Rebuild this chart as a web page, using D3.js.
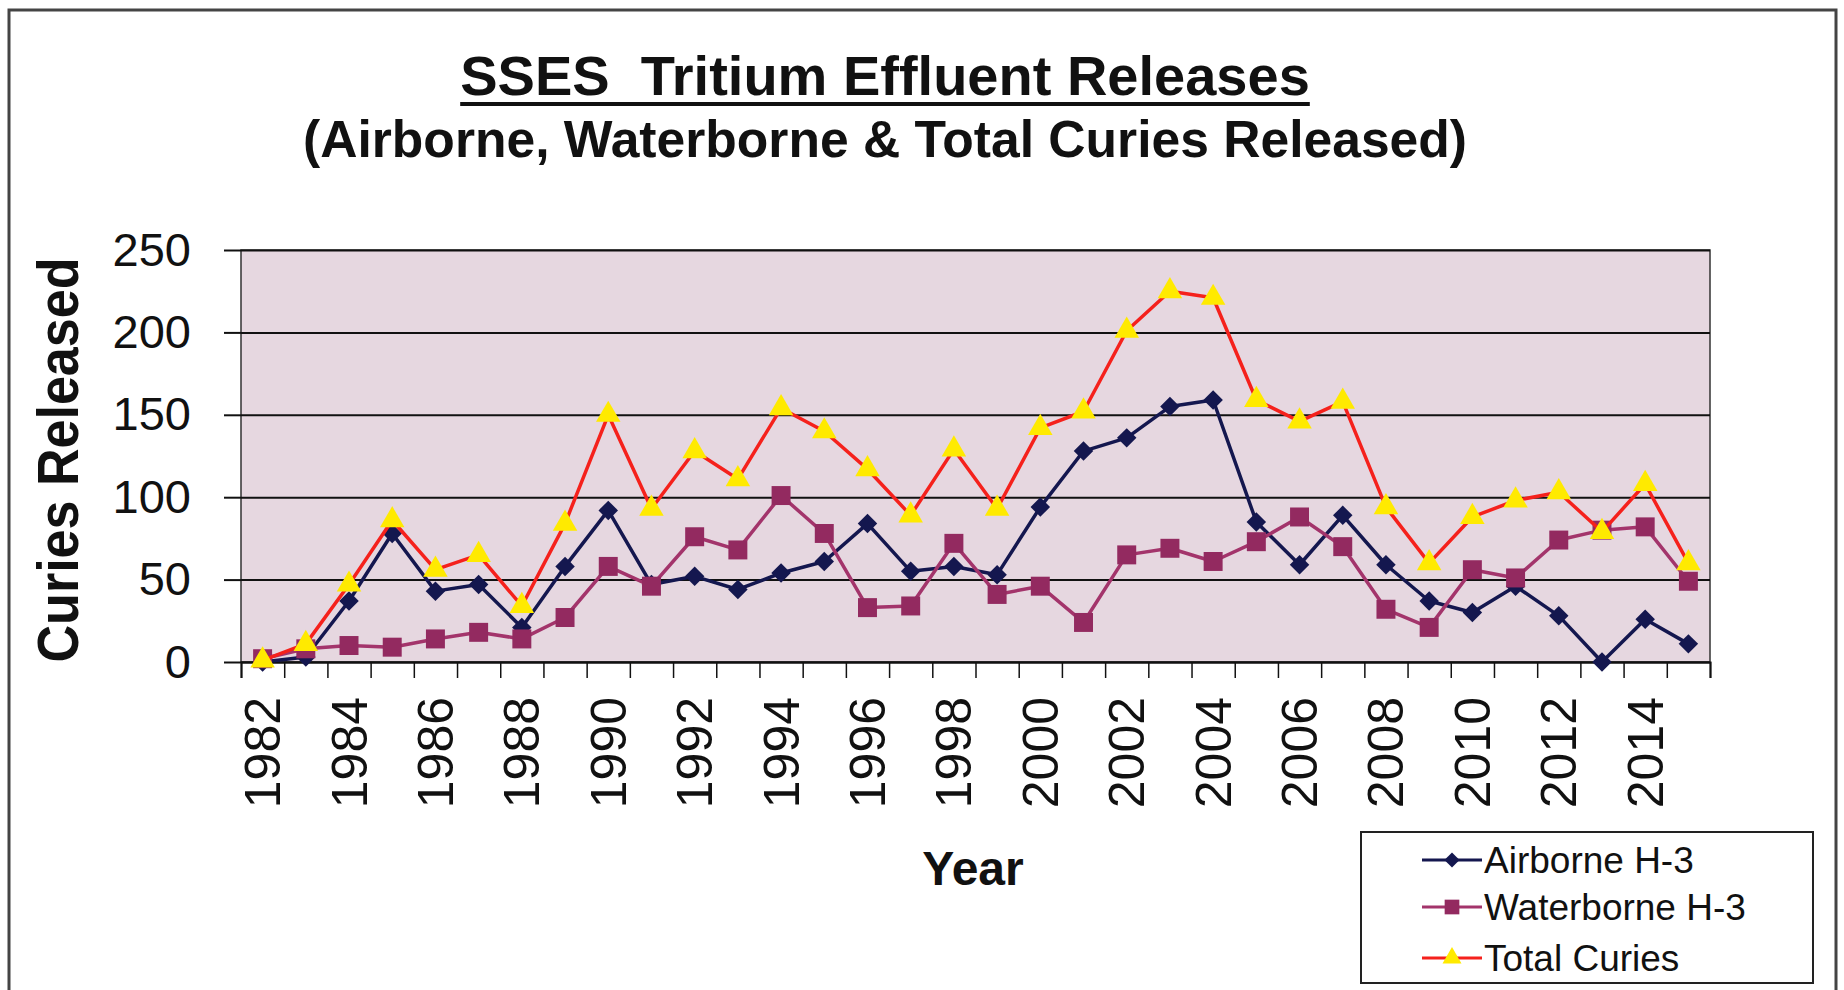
<!DOCTYPE html>
<html>
<head>
<meta charset="utf-8">
<script src="https://cdn.jsdelivr.net/npm/d3@7"></script>
<style>
  body { margin: 0; background: #fff; }
  svg { display: block; font-family: Arial, "Liberation Sans", sans-serif; }
</style>
</head>
<body>
<svg id="chart" width="1844" height="990"></svg>
<script>
// data
const years = d3.range(1982, 2016)
const airborne = [0, 3, 37, 78, 43, 47, 21, 58, 92, 47, 52, 44, 54, 61, 84, 55, 58, 53, 94, 128,
  136, 155, 159, 85, 59, 89, 59, 37, 30, 46, 28, 0, 26, 11]
const waterborne = [2, 8, 10, 9, 14, 18, 14, 27, 58, 46, 76, 68, 101, 78, 33, 34, 72, 41, 46, 24,
  65, 69, 61, 73, 88, 70, 32, 21, 56, 51, 74, 80, 82, 49]
const total = [1, 11, 47, 86, 56, 65, 34, 84, 150, 93, 128, 111, 154, 140, 117, 89, 129, 93, 142, 152,
  201, 225, 221, 159, 146, 158, 94, 60, 88, 98, 103, 79, 108, 60]
const yTicks = [0, 50, 100, 150, 200, 250]
const xLabels = years.filter(y => y % 2 === 0)
const seriesNames = ['Airborne H-3', 'Waterborne H-3', 'Total Curies']

const plot = {left: 241, right: 1710, top: 250, bottom: 662}

const svg = d3.select('#chart')

// outer frame of the scan
svg.append('rect').attr('x', 9).attr('y', 10).attr('width', 1827).attr('height', 1000)
  .attr('fill', 'none').attr('stroke', '#444').attr('stroke-width', 3)

let x = d3.scaleBand().domain(years).range([plot.left, plot.right]).padding(0)
let xEdge = d3.scaleLinear().domain([0, years.length]).range([plot.left, plot.right])
let y = d3.scaleLinear().domain([0, 250]).range([plot.bottom, plot.top])
const cx = d => x(d) + x.bandwidth() / 2

// plot area
svg.append('rect').attr('x', plot.left).attr('y', plot.top)
  .attr('width', plot.right - plot.left).attr('height', plot.bottom - plot.top)
  .attr('fill', '#e6d7e0').attr('stroke', '#333').attr('stroke-width', 1.5)

// gridlines
svg.append('g').attr('class', 'grid')
  .attr('transform', `translate(${plot.left},0)`)
  .call(d3.axisLeft(y).tickValues(yTicks).tickSize(-(plot.right - plot.left)).tickFormat(''))
  .call(g => g.select('.domain').remove())
  .selectAll('line').attr('stroke', '#111').attr('stroke-width', 2)

// y axis
svg.append('g').attr('class', 'yAxis')
  .attr('transform', `translate(${plot.left},0)`)
  .call(d3.axisLeft(y).tickValues(yTicks).tickSize(17).tickPadding(33))
  .call(g => g.select('.domain').remove())
  .call(g => g.selectAll('line').attr('stroke', '#111').attr('stroke-width', 2))
  .call(g => g.selectAll('text').attr('font-size', 47).attr('fill', '#111')
    .attr('font-family', 'Arial, "Liberation Sans", sans-serif'))

// x axis tick marks between categories
svg.append('g').attr('class', 'xTicks')
  .attr('transform', `translate(0,${plot.bottom})`)
  .call(d3.axisBottom(xEdge).tickValues(d3.range(years.length + 1)).tickSize(16).tickFormat(''))
  .call(g => g.select('.domain').attr('stroke', '#111').attr('stroke-width', 2))
  .selectAll('line').attr('stroke', '#111').attr('stroke-width', 1.5)

// x labels, rotated
svg.append('g').attr('class', 'xAxis')
  .attr('transform', `translate(0,${plot.bottom})`)
  .call(d3.axisBottom(x).tickValues(xLabels).tickSize(0))
  .call(g => g.select('.domain').remove())
  .selectAll('text')
  .attr('transform', 'rotate(-90)')
  .attr('x', -35).attr('y', 0).attr('dy', '0.35em')
  .attr('text-anchor', 'end')
  .attr('font-size', 50).attr('fill', '#111')
  .attr('font-family', 'Arial, "Liberation Sans", sans-serif')

// series
const series = [
  {name: seriesNames[0], values: airborne, line: '#14174f', fill: '#14174f',
    symbol: d3.symbolSquare, size: 190, rotate: 45},
  {name: seriesNames[1], values: waterborne, line: '#a3346b', fill: '#932a60',
    symbol: d3.symbolSquare, size: 360, rotate: 0},
  {name: seriesNames[2], values: total, line: '#f5211c', fill: '#ffea00',
    symbol: d3.symbolTriangle, size: 260, rotate: 0}
]

let line = d3.line().x((d, i) => cx(years[i])).y(d => y(d))

series.forEach(s => {
  let g = svg.append('g').attr('class', 'series')
  g.append('path').datum(s.values)
    .attr('fill', 'none').attr('stroke', s.line).attr('stroke-width', 3.5)
    .attr('stroke-linejoin', 'round')
    .attr('d', line)
  g.selectAll('path.marker').data(s.values).enter().append('path')
    .attr('class', 'marker')
    .attr('d', d3.symbol().type(s.symbol).size(s.size))
    .attr('transform', (d, i) => `translate(${cx(years[i])},${y(d)}) rotate(${s.rotate})`)
    .attr('fill', s.fill)
})

// titles
const title = svg.append('text').attr('x', 885).attr('y', 95)
  .attr('text-anchor', 'middle').attr('font-size', 56).attr('font-weight', 'bold')
  .attr('fill', '#111')
  .text('SSES  Tritium Effluent Releases')
  .style('white-space', 'pre')
let tb = title.node().getBBox()
svg.append('line').attr('x1', tb.x).attr('x2', tb.x + tb.width)
  .attr('y1', 104).attr('y2', 104).attr('stroke', '#111').attr('stroke-width', 4)

svg.append('text').attr('x', 885).attr('y', 157)
  .attr('text-anchor', 'middle').attr('font-size', 52).attr('font-weight', 'bold')
  .attr('fill', '#111')
  .attr('textLength', 1164).attr('lengthAdjust', 'spacingAndGlyphs')
  .text('(Airborne, Waterborne & Total Curies Released)')

svg.append('text')
  .attr('transform', 'translate(78,460) rotate(-90)')
  .attr('text-anchor', 'middle').attr('font-size', 58).attr('font-weight', 'bold')
  .attr('fill', '#111')
  .attr('textLength', 405).attr('lengthAdjust', 'spacingAndGlyphs')
  .text('Curies Released')

svg.append('text').attr('x', 973).attr('y', 885)
  .attr('text-anchor', 'middle').attr('font-size', 48).attr('font-weight', 'bold')
  .attr('fill', '#111')
  .text('Year')

// legend
const legend = svg.append('g').attr('class', 'legend')
legend.append('rect').attr('x', 1361).attr('y', 832).attr('width', 452).attr('height', 151)
  .attr('fill', '#fff').attr('stroke', '#222').attr('stroke-width', 2)
const rowY = [860, 907, 958]
series.forEach((s, i) => {
  let row = legend.append('g').attr('transform', `translate(0,${rowY[i]})`)
  row.append('line').attr('x1', 1422).attr('x2', 1482).attr('y1', 0).attr('y2', 0)
    .attr('stroke', s.line).attr('stroke-width', 3)
  row.append('path')
    .attr('d', d3.symbol().type(s.symbol).size(s.size * 0.6))
    .attr('transform', `translate(1452,0) rotate(${s.rotate})`)
    .attr('fill', s.fill)
  row.append('text').attr('x', 1484).attr('y', 0).attr('dy', '0.35em')
    .attr('font-size', 37).attr('fill', '#111')
    .text(s.name)
})
</script>
</body>
</html>
